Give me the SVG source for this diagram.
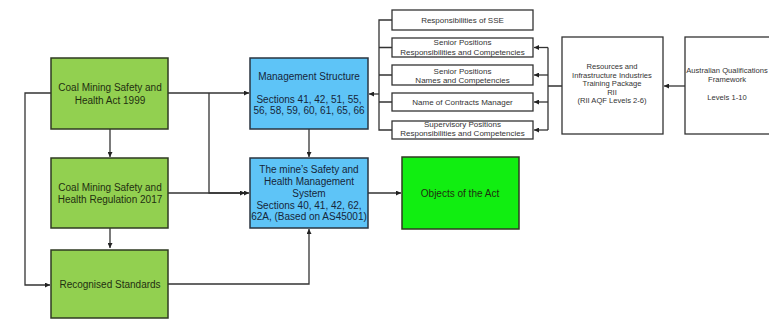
<svg xmlns="http://www.w3.org/2000/svg" width="769" height="321" viewBox="0 0 769 321">
<defs>
<marker id="ah" viewBox="0 0 10 10" refX="10" refY="5" markerWidth="5" markerHeight="5" orient="auto" markerUnits="userSpaceOnUse">
<path d="M0,0 L10,5 L0,10 z" fill="#222"/>
</marker>
<style>
.g{fill:#92d050;stroke:#2f3a22;stroke-width:1.5}
.b{fill:#5ec4f7;stroke:#2a3440;stroke-width:1.5}
.o{fill:#11ee11;stroke:#2f3a22;stroke-width:1.5}
.w{fill:#fff;stroke:#333;stroke-width:1.3}
.t{font-family:"Liberation Sans",Arial,sans-serif;text-anchor:middle}
.tg{font-size:10px;fill:#1f2f10}
.tb{font-size:10px;fill:#16263a}
.ts{font-size:8px;fill:#333}
.tr{font-size:7.6px;fill:#333}
.c{fill:none;stroke:#333;stroke-width:1.3}
</style>
</defs>
<rect width="769" height="321" fill="#fff"/>
<g id="connectors">
<path class="c" d="M168,93 H249" marker-end="url(#ah)"/>
<path class="c" d="M209,93 V193 H249" marker-end="url(#ah)"/>
<path class="c" d="M168,193 H245" marker-end="url(#ah)"/>
<path class="c" d="M51,93 H25 V285 H50" marker-end="url(#ah)"/>
<path class="c" d="M110,129 V157" marker-end="url(#ah)"/>
<path class="c" d="M110,228 V248" marker-end="url(#ah)"/>
<path class="c" d="M309,129 V157" marker-end="url(#ah)"/>
<path class="c" d="M168,284 H309 V229" marker-end="url(#ah)"/>
<path class="c" d="M368,193 H401" marker-end="url(#ah)"/>
<path class="c" d="M392,20 H379 V130 H392 M379,47.5 H392 M379,75 H392 M379,102 H392"/>
<path class="c" d="M379,94 H369" marker-end="url(#ah)"/>
<path class="c" d="M562,86 H548 V47.5 M548,86 V130"/>
<path class="c" d="M548,47.5 H534" marker-end="url(#ah)"/>
<path class="c" d="M548,75 H534" marker-end="url(#ah)"/>
<path class="c" d="M548,102 H534" marker-end="url(#ah)"/>
<path class="c" d="M548,130 H534" marker-end="url(#ah)"/>
<path class="c" d="M685,86 H664" marker-end="url(#ah)"/>
</g>
<g id="act">
<rect class="g" x="51" y="58" width="117" height="71"/>
<text class="t tg" x="110" y="91">Coal Mining Safety and</text>
<text class="t tg" x="110" y="104">Health Act 1999</text>
</g>
<g id="regulation">
<rect class="g" x="51" y="158" width="117" height="70"/>
<text class="t tg" x="110" y="190.5">Coal Mining Safety and</text>
<text class="t tg" x="110" y="202.5">Health Regulation 2017</text>
</g>
<g id="standards">
<rect class="g" x="51" y="250" width="117" height="68"/>
<text class="t tg" x="110" y="288">Recognised Standards</text>
</g>
<g id="management">
<rect class="b" x="250" y="58" width="118" height="71"/>
<text class="t tb" x="309" y="79.5">Management Structure</text>
<text class="t tb" x="309" y="102.5">Sections 41, 42, 51, 55,</text>
<text class="t tb" x="309" y="113.5">56, 58, 59, 60, 61, 65, 66</text>
</g>
<g id="sms">
<rect class="b" x="250" y="158" width="118" height="70"/>
<text class="t tb" x="309" y="172.5">The mine’s Safety and</text>
<text class="t tb" x="309" y="184.5">Health Management</text>
<text class="t tb" x="309" y="196.5">System</text>
<text class="t tb" x="309" y="208.5">Sections 40, 41, 42, 62,</text>
<text class="t tb" x="309" y="220" font-size="9.8">62A, (Based on AS45001)</text>
</g>
<g id="objects">
<rect class="o" x="402" y="157" width="117" height="72"/>
<text class="t tg" x="460" y="196.5">Objects of the Act</text>
</g>
<g id="sse">
<rect class="w" x="392" y="10" width="141" height="20"/>
<text class="t ts" x="462.5" y="22.5">Responsibilities of SSE</text>
</g>
<g id="senior-resp">
<rect class="w" x="392" y="38" width="141" height="19"/>
<text class="t ts" x="462.5" y="44.5">Senior Positions</text>
<text class="t ts" x="462.5" y="54.5">Responsibilities and Competencies</text>
</g>
<g id="senior-names">
<rect class="w" x="392" y="65" width="141" height="20"/>
<text class="t ts" x="462.5" y="73.5">Senior Positions</text>
<text class="t ts" x="462.5" y="82.5">Names and Competencies</text>
</g>
<g id="contracts">
<rect class="w" x="392" y="93" width="141" height="18"/>
<text class="t ts" x="462.5" y="104.5">Name of Contracts Manager</text>
</g>
<g id="supervisory">
<rect class="w" x="392" y="121" width="141" height="18"/>
<text class="t ts" x="462.5" y="126.5">Supervisory Positions</text>
<text class="t ts" x="462.5" y="135.5">Responsibilities and Competencies</text>
</g>
<g id="rii">
<rect class="w" x="562" y="37" width="101" height="97"/>
<text class="t tr" x="612" y="69">Resources and</text>
<text class="t tr" x="612" y="77.5">Infrastructure Industries</text>
<text class="t tr" x="612" y="86">Training Package</text>
<text class="t tr" x="612" y="94.5">RII</text>
<text class="t tr" x="612" y="103">(RII AQF Levels 2-6)</text>
</g>
<g id="aqf">
<rect class="w" x="685" y="37" width="100" height="97"/>
<text class="t tr" x="727" y="73" font-size="7.1">Australian Qualifications</text>
<text class="t tr" x="727" y="81.5">Framework</text>
<text class="t tr" x="727" y="100">Levels 1-10</text>
</g>
</svg>
